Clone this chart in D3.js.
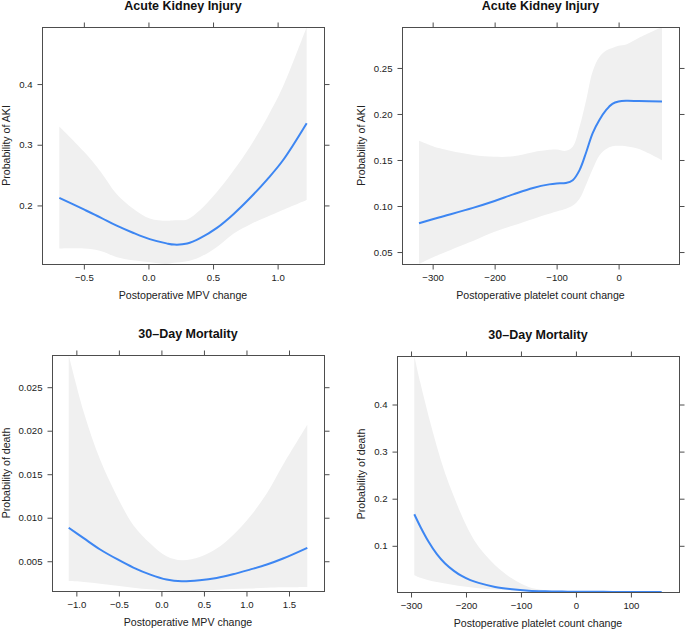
<!DOCTYPE html>
<html>
<head>
<meta charset="utf-8">
<script src="https://cdn.jsdelivr.net/npm/d3@7"></script>
<style>
  html, body { margin: 0; padding: 0; background: #fff; }
  svg { display: block; font-family: "Liberation Sans", Arial, Helvetica, sans-serif; }
</style>
</head>
<body>
<svg id="chart" width="685" height="630"></svg>
<script>
// ---------- DATA ----------
// Panel A: AKI vs postoperative MPV change
const mpvAkiX     = [-0.69, -0.5, -0.37, -0.25, -0.12, 0.01, 0.14, 0.2, 0.3, 0.4, 0.53, 0.66, 0.79, 0.92, 1.04, 1.225];
const mpvAkiFit   = [0.2126, 0.1934, 0.180, 0.167, 0.155, 0.1445, 0.1375, 0.1355, 0.1372, 0.146, 0.163, 0.186, 0.213, 0.243, 0.274, 0.3355];
const mpvAkiLower = [0.1289, 0.1289, 0.1251, 0.1151, 0.1096, 0.1065, 0.1035, 0.1055, 0.108, 0.1151, 0.1317, 0.1537, 0.1691, 0.1813, 0.1923, 0.2088];
const mpvAkiUpper = [0.330, 0.2887, 0.2556, 0.2198, 0.195, 0.1785, 0.1747, 0.1755, 0.1769, 0.1923, 0.222, 0.258, 0.298, 0.345, 0.395, 0.494];

// Panel B: AKI vs postoperative platelet count change
const pltAkiX     = [-322, -290, -235, -200, -170, -138, -112, -100, -85, -74, -63, -52, -42, -31, -20, -10, 0, 12, 33, 70];
const pltAkiFit   = [0.0813, 0.0875, 0.098, 0.1055, 0.1126, 0.1196, 0.1235, 0.1245, 0.125, 0.128, 0.139, 0.159, 0.179, 0.1935, 0.2044, 0.211, 0.2135, 0.2143, 0.214, 0.2135];
const pltAkiLower = [0.037, 0.047, 0.062, 0.072, 0.0788, 0.086, 0.0915, 0.094, 0.097, 0.1005, 0.108, 0.124, 0.140, 0.155, 0.162, 0.165, 0.1655, 0.165, 0.162, 0.1498];
const pltAkiUpper = [0.171, 0.163, 0.1555, 0.1535, 0.154, 0.1585, 0.161, 0.1614, 0.160, 0.1644, 0.186, 0.216, 0.246, 0.262, 0.269, 0.2718, 0.274, 0.2755, 0.2828, 0.2945];

// Panel C: 30-day mortality vs postoperative MPV change
const mpvDeathX     = [-1.09, -0.91, -0.72, -0.52, -0.33, -0.13, 0.06, 0.24, 0.45, 0.65, 0.84, 1.04, 1.24, 1.43, 1.715];
const mpvDeathFit   = [0.00885, 0.00762, 0.00635, 0.00523, 0.00427, 0.00346, 0.00289, 0.00269, 0.00281, 0.00308, 0.0035, 0.00404, 0.00462, 0.00531, 0.00654];
const mpvDeathLower = [0.00273, 0.00262, 0.00242, 0.00219, 0.00196, 0.00177, 0.00165, 0.00158, 0.00162, 0.00173, 0.00181, 0.00188, 0.00196, 0.0020, 0.00204];
const mpvDeathUpper = [0.0287, 0.02204, 0.01665, 0.01242, 0.00915, 0.00704, 0.00558, 0.00512, 0.0055, 0.00646, 0.0080, 0.01012, 0.01281, 0.01608, 0.02069];

// Panel D: 30-day mortality vs postoperative platelet count change
const pltDeathX     = [-294, -283, -268, -253, -238, -222, -207, -192, -177, -147, -116, -86, -56, -25, 0, 50, 100, 156];
const pltDeathFit   = [0.167, 0.1406, 0.1086, 0.0823, 0.0624, 0.0468, 0.0354, 0.027, 0.0212, 0.0126, 0.0077, 0.0048, 0.0035, 0.0028, 0.0025, 0.0022, 0.0020, 0.0019];
const pltDeathLower = [0.0375, 0.032, 0.027, 0.023, 0.020, 0.017, 0.014, 0.012, 0.0098, 0.007, 0.0052, 0.0041, 0.003, 0.0024, 0.0021, 0.0020, 0.0019, 0.0019];
const pltDeathUpper = [0.503, 0.446, 0.375, 0.311, 0.254, 0.2045, 0.162, 0.126, 0.098, 0.0588, 0.0304, 0.0126, 0.0055, 0.0034, 0.0028, 0.0024, 0.0022, 0.0021];

// Tick values and labels
const mpvAkiXTicks = [-0.5, 0, 0.5, 1.0];
const mpvAkiXLabels = ["\u22120.5", "0.0", "0.5", "1.0"];
const mpvAkiYTicks = [0.2, 0.3, 0.4];
const mpvAkiYLabels = ["0.2", "0.3", "0.4"];

const pltAkiXTicks = [-300, -200, -100, 0];
const pltAkiXLabels = ["\u2212300", "\u2212200", "\u2212100", "0"];
const pltAkiYTicks = [0.05, 0.10, 0.15, 0.20, 0.25];
const pltAkiYLabels = ["0.05", "0.10", "0.15", "0.20", "0.25"];

const mpvDeathXTicks = [-1.0, -0.5, 0, 0.5, 1.0, 1.5];
const mpvDeathXLabels = ["\u22121.0", "\u22120.5", "0.0", "0.5", "1.0", "1.5"];
const mpvDeathYTicks = [0.005, 0.010, 0.015, 0.020, 0.025];
const mpvDeathYLabels = ["0.005", "0.010", "0.015", "0.020", "0.025"];

const pltDeathXTicks = [-300, -200, -100, 0, 100];
const pltDeathXLabels = ["\u2212300", "\u2212200", "\u2212100", "0", "100"];
const pltDeathYTicks = [0.1, 0.2, 0.3, 0.4];
const pltDeathYLabels = ["0.1", "0.2", "0.3", "0.4"];

const titles = ["Acute Kidney Injury", "Acute Kidney Injury", "30\u2013Day Mortality", "30\u2013Day Mortality"];
const xLabels = ["Postoperative MPV change", "Postoperative platelet count change", "Postoperative MPV change", "Postoperative platelet count change"];
const yLabels = ["Probability of AKI", "Probability of AKI", "Probability of death", "Probability of death"];

// ---------- LAYOUT ----------
const panels = [
  { box: [42, 27, 324, 264], ylabX: 10,
    x: mpvAkiX, fit: mpvAkiFit, lo: mpvAkiLower, hi: mpvAkiUpper,
    xt: mpvAkiXTicks, xl: mpvAkiXLabels, yt: mpvAkiYTicks, yl: mpvAkiYLabels },
  { box: [402, 27, 679, 264], ylabX: 365,
    x: pltAkiX, fit: pltAkiFit, lo: pltAkiLower, hi: pltAkiUpper,
    xt: pltAkiXTicks, xl: pltAkiXLabels, yt: pltAkiYTicks, yl: pltAkiYLabels },
  { box: [52, 355, 324, 591], ylabX: 10,
    x: mpvDeathX, fit: mpvDeathFit, lo: mpvDeathLower, hi: mpvDeathUpper,
    xt: mpvDeathXTicks, xl: mpvDeathXLabels, yt: mpvDeathYTicks, yl: mpvDeathYLabels },
  { box: [397, 356, 679, 592], ylabX: 365,
    x: pltDeathX, fit: pltDeathFit, lo: pltDeathLower, hi: pltDeathUpper,
    xt: pltDeathXTicks, xl: pltDeathXLabels, yt: pltDeathYTicks, yl: pltDeathYLabels }
];

const axisCol = "#4d4d4d";
const bandCol = "#f0f0f0";
const lineCol = "#3d86f2";
const curve = d3.curveCatmullRom.alpha(0.5);

const svg = d3.select("#chart");

panels.forEach((p, i) => {
  const [L, T, R, B] = p.box;
  const ext = d3.extent(p.x);
  const pad = (ext[1] - ext[0]) * 0.07;
  const x = d3.scaleLinear().domain([ext[0] - pad, ext[1] + pad]).range([L, R]);
  const y = d3.scaleLinear().domain([d3.min(p.lo), d3.max(p.hi)]).range([B, T]);

  const rows = p.x.map((v, k) => ({ x: v, f: p.fit[k], lo: p.lo[k], hi: p.hi[k] }));

  const g = svg.append("g");
  const clipId = "clip" + i;
  g.append("clipPath").attr("id", clipId)
    .append("rect").attr("x", L).attr("y", T).attr("width", R - L).attr("height", B - T);

  const plot = g.append("g").attr("clip-path", `url(#${clipId})`);
  plot.append("path").datum(rows)
    .attr("fill", bandCol)
    .attr("d", d3.area().curve(curve)
      .x(d => x(d.x)).y0(d => y(d.lo)).y1(d => y(d.hi)));
  plot.append("path").datum(rows)
    .attr("fill", "none").attr("stroke", lineCol).attr("stroke-width", 2)
    .attr("d", d3.line().curve(curve).x(d => x(d.x)).y(d => y(d.f)));

  // axes
  const fmtX = v => p.xl[p.xt.indexOf(v)];
  const fmtY = v => p.yl[p.yt.indexOf(v)];
  const styleAxis = sel => {
    sel.select(".domain").remove();
    sel.selectAll("line").attr("stroke", axisCol);
    sel.selectAll("text").attr("fill", "#222").style("font-size", "9.6px");
  };
  g.append("g").attr("transform", `translate(0,${B + 0.5})`)
    .call(d3.axisBottom(x).tickValues(p.xt).tickFormat(fmtX).tickSize(5).tickPadding(5))
    .call(styleAxis);
  g.append("g").attr("transform", `translate(0,${T + 0.5})`)
    .call(d3.axisTop(x).tickValues(p.xt).tickFormat("").tickSize(5))
    .call(styleAxis);
  g.append("g").attr("transform", `translate(${L + 0.5},0)`)
    .call(d3.axisLeft(y).tickValues(p.yt).tickFormat(fmtY).tickSize(5).tickPadding(5))
    .call(styleAxis);
  g.append("g").attr("transform", `translate(${R + 0.5},0)`)
    .call(d3.axisRight(y).tickValues(p.yt).tickFormat("").tickSize(5))
    .call(styleAxis);

  g.append("rect").attr("x", L + 0.5).attr("y", T + 0.5)
    .attr("width", R - L).attr("height", B - T)
    .attr("fill", "none").attr("stroke", axisCol).attr("stroke-width", 1);

  const cx = (L + R) / 2, cy = (T + B) / 2;
  g.append("text").attr("x", cx).attr("y", T - 17)
    .attr("text-anchor", "middle").style("font-size", "12.5px").style("font-weight", "bold")
    .attr("fill", "#111").text(titles[i]);
  g.append("text").attr("x", cx).attr("y", B + 34.5)
    .attr("text-anchor", "middle").style("font-size", "10.6px")
    .attr("fill", "#222").text(xLabels[i]);
  g.append("text").attr("transform", `translate(${p.ylabX},${cy}) rotate(-90)`)
    .attr("text-anchor", "middle").style("font-size", "10.6px")
    .attr("fill", "#222").text(yLabels[i]);
});
</script>
</body>
</html>
